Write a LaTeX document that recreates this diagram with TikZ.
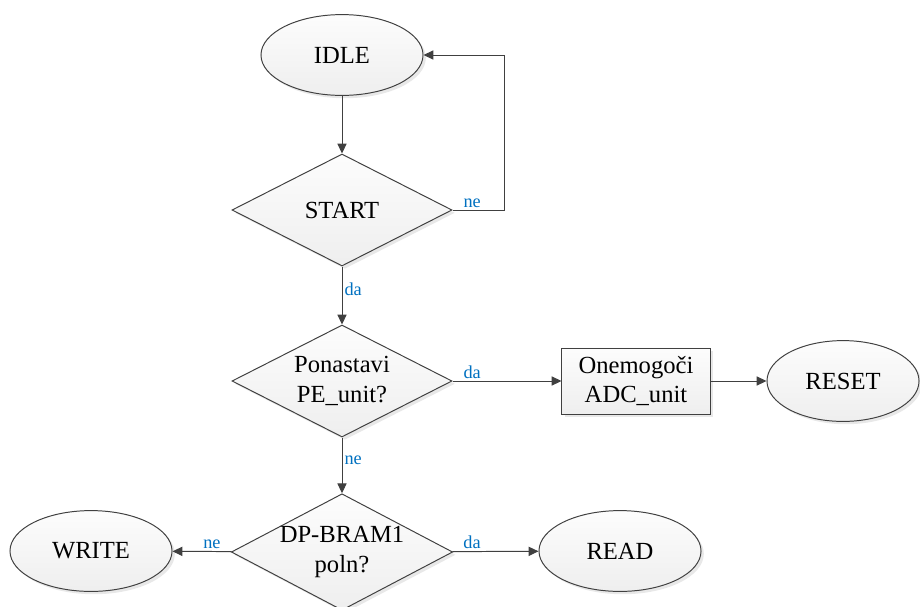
\documentclass[tikz,border=0pt]{standalone}
\usepackage{fontspec}
\setmainfont{Liberation Serif}
\usetikzlibrary{shapes.geometric,arrows.meta,shadows}
\definecolor{edge}{HTML}{404040}
\definecolor{lbl}{HTML}{0070C0}
\begin{document}
\begin{tikzpicture}[x=0.025cm,y=-0.025cm,
    base/.style = {draw=edge, line width=0.7pt, top color=gray!2, bottom color=gray!13,
        drop shadow={opacity=0.18, shadow xshift=2pt, shadow yshift=-2pt},
        font=\fontsize{17.5}{21}\selectfont, align=center, inner sep=0pt},
    state/.style = {base, ellipse, minimum width=4.05cm, minimum height=2.02cm},
    decision/.style = {base, diamond, aspect=1.9, minimum width=5.5cm, minimum height=2.8cm},
    process/.style = {base, rectangle, minimum width=3.7cm, minimum height=1.65cm},
    arr/.style = {draw=edge, line width=0.7pt, -{Triangle[length=7pt,width=6.5pt]}},
    txt/.style = {text=lbl, font=\fontsize{13}{15}\selectfont, inner sep=1.5pt}]
    \useasboundingbox (0,0) rectangle (920,606);
    \node[state] (idle) at (342,55) {IDLE};
    \node[decision] (start) at (342,210) {START};
    \node[decision] (pe) at (342,381) {Ponastavi\\PE\_unit?};
    \node[process] (adc) at (636,381) {Onemogoči\\ADC\_unit};
    \node[state, minimum width=3.8cm] (reset) at (843,381) {RESET};
    \node[decision] (bram) at (342,552) {DP-BRAM1\\poln?};
    \node[state] (write) at (91,551) {WRITE};
    \node[state] (read) at (620,551) {READ};
    \coordinate (loop) at (504,210);
    \draw[arr] (idle) -> (start);
    \draw[arr] (start.east) node[txt, anchor=south west, xshift=6pt] {ne} -- (loop) |- (idle.east);
    \draw[arr] (start) -- node[txt, right, pos=0.4] {da} (pe);
    \draw[arr] (pe) -- node[txt, anchor=south west, pos=0, xshift=6pt] {da} (adc);
    \draw[arr] (adc) -> (reset);
    \draw[arr] (pe) -- node[txt, right, pos=0.4] {ne} (bram);
    \draw[arr] (bram) -- node[txt, anchor=south east, pos=0, xshift=-6pt] {ne} (write);
    \draw[arr] (bram) -- node[txt, anchor=south west, pos=0, xshift=6pt] {da} (read);
\end{tikzpicture}
\end{document}
